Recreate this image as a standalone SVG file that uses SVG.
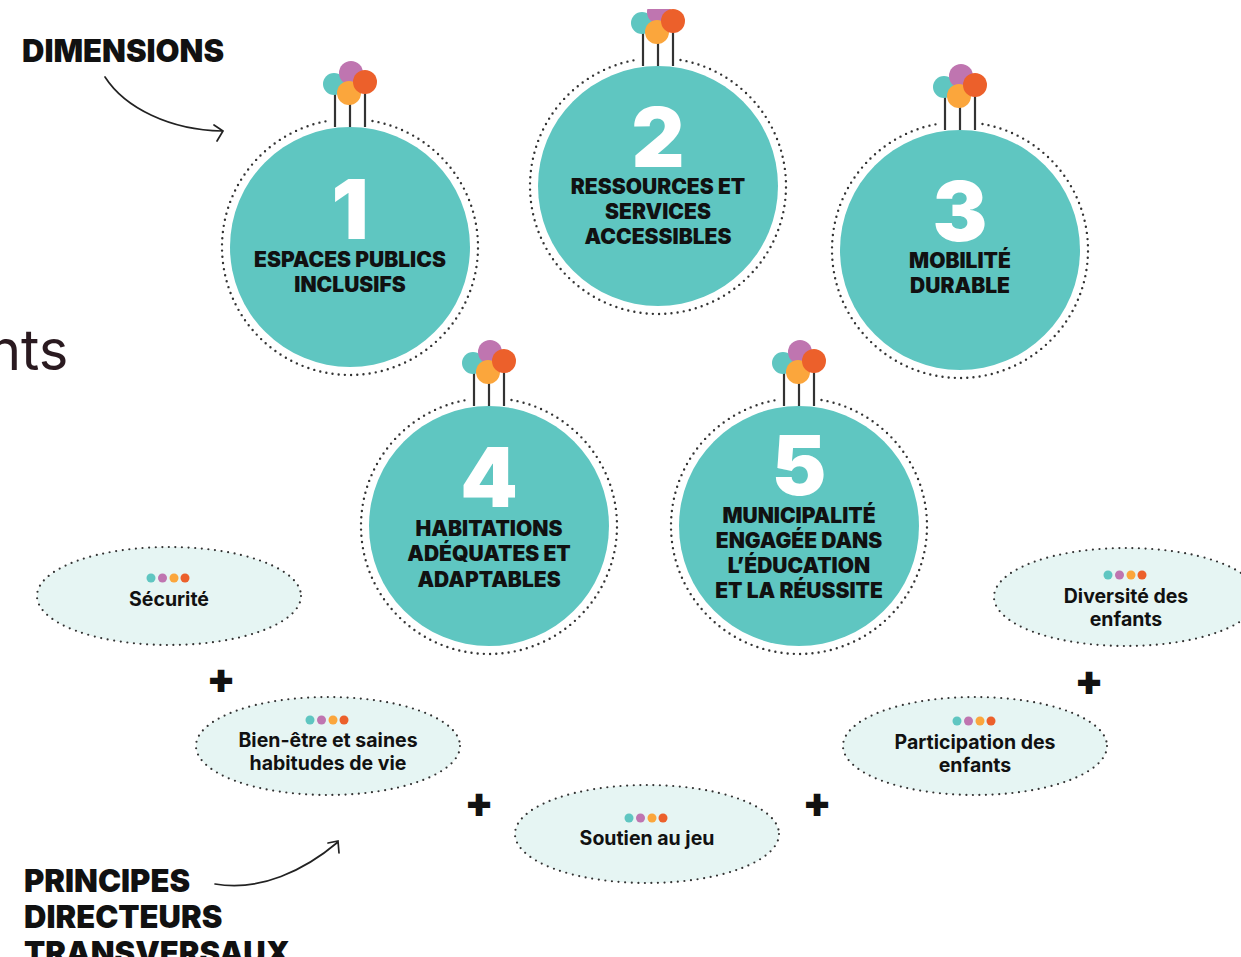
<svg xmlns="http://www.w3.org/2000/svg" width="1241" height="957" viewBox="0 0 1241 957" xmlns:xlink="http://www.w3.org/1999/xlink">
<style>
text{font-family:"Inter","Liberation Sans",sans-serif;fill:#111;text-anchor:middle}
.disc{fill:#5fc6c1}
.ring{fill:none;stroke:#333;stroke-width:2.4;stroke-linecap:round;stroke-dasharray:0 6.2}
.num{fill:#fff;font-weight:900;font-size:82px}
.lab{font-weight:900;font-size:21px}
.el{fill:#e6f5f3;stroke:#333;stroke-width:2.2;stroke-linecap:round;stroke-dasharray:0 6.6}
.pr{font-weight:700;font-size:19.5px}
.big{font-weight:900;text-anchor:start;font-size:31px}
.plus{font-weight:900;font-size:42px}
.arrow{fill:none;stroke:#222;stroke-width:1.7;stroke-linecap:round}
.stick{stroke:#333;stroke-width:2.2}
</style>
<defs>
<g id="bal">
<line class="stick" x1="-15" y1="-120" x2="-15" y2="-160"/><line class="stick" x1="0" y1="-120" x2="0" y2="-155"/><line class="stick" x1="15" y1="-120" x2="15" y2="-160"/>
<circle cx="-16" cy="-163" r="11" fill="#5fc6c1"/><circle cx="1" cy="-174" r="12" fill="#bf75b0"/><circle cx="-1" cy="-154" r="12" fill="#fba63c"/><circle cx="15" cy="-165" r="12" fill="#ec602b"/>
</g>
<path id="ringp" d="M22.500 -126.050A128 128 0 1 1 -22.500 -126.050"/>
<g id="dots"><circle cx="-18" r="4.500" fill="#5fc6c1"/><circle cx="-6.500" r="4.500" fill="#bf75b0"/><circle cx="5" r="4.500" fill="#fba63c"/><circle cx="16" r="4.500" fill="#ec602b"/></g>
</defs>
<text x="-12" y="370" style="text-anchor:start;font-size:56px;font-weight:400;fill:#2a1a20;font-family:'Inter',sans-serif">nts</text>
<g id="connectors">
<path class="arrow" d="M105 77C125 108 170 130 222 131M214 125L223 131L217 141"/>
<path class="arrow" d="M215 884C260 892 305 870 338 842M328 843L338 841L339 853"/>
</g>
<g id="title-dimensions"><text class="big" x="22" y="62">DIMENSIONS</text></g>
<g id="title-principes"><text class="big" x="24" y="892">PRINCIPES</text><text class="big" x="24" y="928">DIRECTEURS</text><text class="big" x="24" y="964">TRANSVERSAUX</text></g>
<g id="dim1" transform="translate(350 247)"><use href="#bal"/><use href="#ringp" class="ring"/><circle class="disc" r="120"/><text class="num" y="-8">1</text><text class="lab" y="20">ESPACES PUBLICS</text><text class="lab" y="45">INCLUSIFS</text></g>
<g id="dim2" transform="translate(658 186)"><use href="#bal"/><use href="#ringp" class="ring"/><circle class="disc" r="120"/><text class="num" y="-19">2</text><text class="lab" y="8">RESSOURCES ET</text><text class="lab" y="33">SERVICES</text><text class="lab" y="58">ACCESSIBLES</text></g>
<g id="dim3" transform="translate(960 250)"><use href="#bal"/><use href="#ringp" class="ring"/><circle class="disc" r="120"/><text class="num" y="-9">3</text><text class="lab" y="18">MOBILITÉ</text><text class="lab" y="43">DURABLE</text></g>
<g id="dim4" transform="translate(489 526)"><use href="#bal"/><use href="#ringp" class="ring"/><circle class="disc" r="120"/><text class="num" y="-19">4</text><text class="lab" y="10">HABITATIONS</text><text class="lab" y="35">ADÉQUATES ET</text><text class="lab" y="61">ADAPTABLES</text></g>
<g id="dim5" transform="translate(799 526)"><use href="#bal"/><use href="#ringp" class="ring"/><circle class="disc" r="120"/><text class="num" y="-31">5</text><text class="lab" y="-3">MUNICIPALITÉ</text><text class="lab" y="22">ENGAGÉE DANS</text><text class="lab" y="47">L’ÉDUCATION</text><text class="lab" y="72">ET LA RÉUSSITE</text></g>
<rect x="600" y="0" width="120" height="9" fill="#fff"/>
<g id="pr1" transform="translate(169 596)"><ellipse class="el" rx="132" ry="49"/><use href="#dots" y="-18"/><text class="pr" y="10">Sécurité</text></g>
<g id="pr2" transform="translate(328 746)"><ellipse class="el" rx="132" ry="49"/><use href="#dots" y="-26"/><text class="pr" y="1">Bien-être et saines</text><text class="pr" y="24">habitudes de vie</text></g>
<g id="pr3" transform="translate(647 834)"><ellipse class="el" rx="132" ry="49"/><use href="#dots" y="-16"/><text class="pr" y="11">Soutien au jeu</text></g>
<g id="pr4" transform="translate(975 746)"><ellipse class="el" rx="132" ry="49"/><use href="#dots" y="-25"/><text class="pr" y="3">Participation des</text><text class="pr" y="26">enfants</text></g>
<g id="pr5" transform="translate(1126 597)"><ellipse class="el" rx="132" ry="49"/><use href="#dots" y="-22"/><text class="pr" y="6">Diversité des</text><text class="pr" y="29">enfants</text></g>
<g id="plus"><text class="plus" x="221" y="693">+</text><text class="plus" x="479" y="817">+</text><text class="plus" x="817" y="817">+</text><text class="plus" x="1089" y="695">+</text></g>
</svg>
